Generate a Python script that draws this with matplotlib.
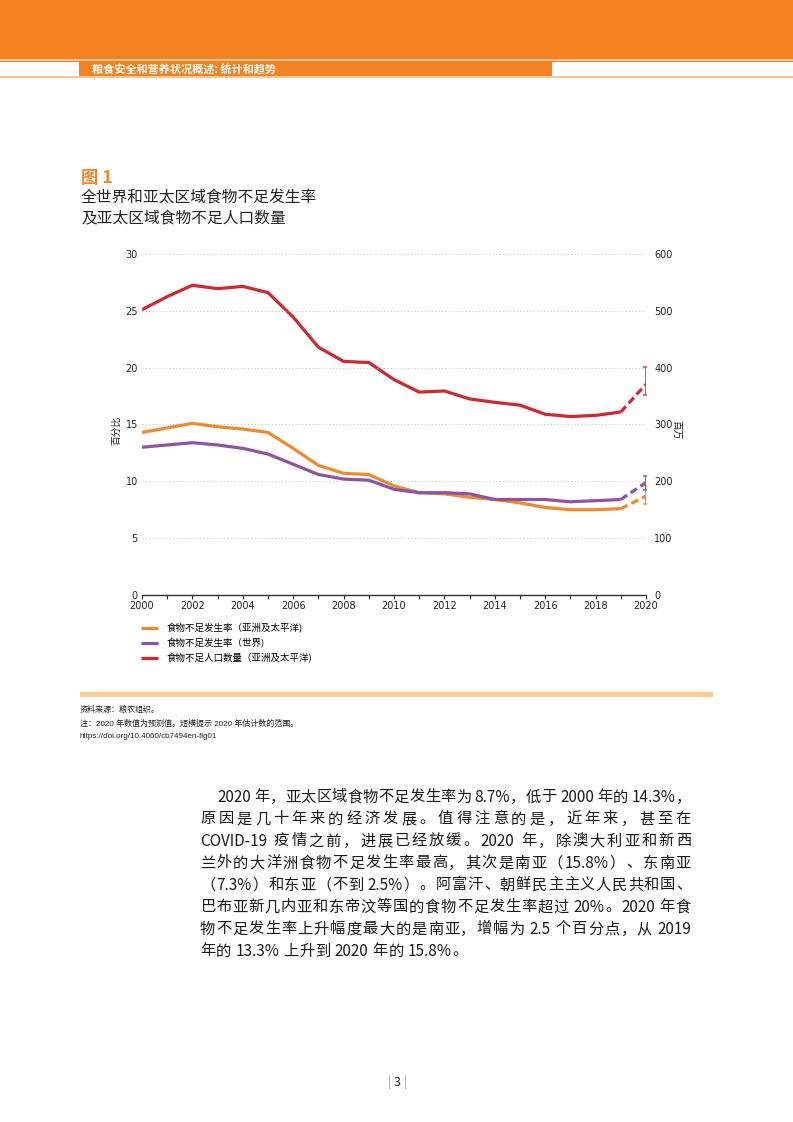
import re
import numpy as np
import matplotlib
matplotlib.use("Agg")
import matplotlib.pyplot as plt
from matplotlib.patches import Rectangle

CJK = ['Noto Sans CJK SC', 'DejaVu Sans']
plt.rcParams['font.family'] = CJK

# ---- data ----
years = list(range(2000, 2020))
apac_pou = [14.3, 14.7, 15.1, 14.8, 14.6, 14.3, 12.9, 11.4, 10.7, 10.6,
            9.6, 9.0, 8.9, 8.6, 8.4, 8.1, 7.7, 7.5, 7.5, 7.6]
world_pou = [13.0, 13.2, 13.4, 13.2, 12.9, 12.4, 11.5, 10.6, 10.2, 10.1,
             9.3, 9.0, 9.0, 8.9, 8.4, 8.4, 8.4, 8.2, 8.3, 8.4]
apac_nou = [502, 525, 545, 539, 543, 532, 489, 436, 411, 409,
            379, 357, 359, 345, 339, 334, 318, 314, 316, 322]

proj_year = 2020
apac_pou_2020, apac_pou_range = 8.7, (8.0, 9.6)
world_pou_2020, world_pou_range = 9.9, (9.2, 10.5)
apac_nou_2020, apac_nou_range = 371, (352, 401)

labels = ['食物不足发生率（亚洲及太平洋)', '食物不足发生率（世界)', '食物不足人口数量（亚洲及太平洋)']
left_ticks = [0, 5, 10, 15, 20, 25, 30]
right_ticks = [0, 100, 200, 300, 400, 500, 600]
x_ticks = list(range(2000, 2021, 2))

title_lines = ['全世界和亚太区域食物不足发生率', '及亚太区域食物不足人口数量']
source_lines = ['资料来源：粮农组织。',
                '注：2020 年数值为预测值。短横提示 2020 年估计数的范围。',
                'https://doi.org/10.4060/cb7494en-fig01']
para = ['2020 年，亚太区域食物不足发生率为 8.7%，低于 2000 年的 14.3%，',
        '原因是几十年来的经济发展。值得注意的是，近年来，甚至在',
        'COVID-19 疫情之前，进展已经放缓。2020 年，除澳大利亚和新西',
        '兰外的大洋洲食物不足发生率最高，其次是南亚（15.8%）、东南亚',
        '（7.3%）和东亚（不到 2.5%）。阿富汗、朝鲜民主主义人民共和国、',
        '巴布亚新几内亚和东帝汶等国的食物不足发生率超过 20%。2020 年食',
        '物不足发生率上升幅度最大的是南亚，增幅为 2.5 个百分点，从 2019',
        '年的 13.3% 上升到 2020 年的 15.8%。']

ORANGE = '#F0892E'
PURPLE = '#8E54A1'
RED = '#D22630'
HEAD = '#F58220'

W, H = 793, 1122
fig = plt.figure(figsize=(W / 100, H / 100), dpi=100)


def fx(x):
    return x / W


def fy(y):
    return 1 - y / H


def rect(x0, y0, x1, y1, color):
    fig.add_artist(Rectangle((fx(x0), fy(y1)), fx(x1) - fx(x0), fy(y0) - fy(y1),
                             transform=fig.transFigure, color=color, lw=0))


# header
rect(0, 0, W, 59.5, HEAD)
rect(0, 59.5, W, 61, '#FBC89A')
rect(0, 61, W, 76.5, HEAD)
rect(0, 62.5, 79, 75.5, 'white')
rect(552, 62.5, W, 75.5, 'white')
rect(0, 76.5, W, 77.5, '#FBC89A')
fig.text(fx(92), fy(69.5), '粮食安全和营养状况概述: 统计和趋势', color='white',
         fontsize=8, fontweight='bold', va='center', ha='left')

# title
fig.text(fx(81), fy(178), '图 1', color=ORANGE, fontsize=12.5, fontweight='bold',
         va='center', ha='left')
for i, t in enumerate(title_lines):
    fig.text(fx(81), fy(198 + i * 20), t, color='#222222', fontsize=11.3,
             va='center', ha='left')

# chart
ax = fig.add_axes([fx(142), fy(595), fx(646) - fx(142), fy(254) - fy(595)])
ax2 = ax.twinx()

lw = 2.3
dash = (2.4, 1.3)
l1, = ax.plot(years, apac_pou, color=ORANGE, lw=lw, solid_capstyle='butt', zorder=3)
l2, = ax.plot(years, world_pou, color=PURPLE, lw=lw, solid_capstyle='butt', zorder=4)
l3, = ax2.plot(years, apac_nou, color=RED, lw=lw, solid_capstyle='butt', zorder=3)

ax.plot([years[-1], proj_year], [apac_pou[-1], apac_pou_2020], color=ORANGE, lw=lw,
        dashes=dash, zorder=3)
ax.plot([years[-1], proj_year], [world_pou[-1], world_pou_2020], color=PURPLE, lw=lw,
        dashes=dash, zorder=4)
ax2.plot([years[-1], proj_year], [apac_nou[-1], apac_nou_2020], color=RED, lw=lw,
         dashes=dash, zorder=3)

for a, v, r, c in [(ax, apac_pou_2020, apac_pou_range, ORANGE),
                   (ax, world_pou_2020, world_pou_range, PURPLE),
                   (ax2, apac_nou_2020, apac_nou_range, '#D6454F')]:
    a.errorbar([proj_year], [v], yerr=[[v - r[0]], [r[1] - v]], fmt='none',
               ecolor=c, elinewidth=1.3, capsize=2.2, capthick=1.1, zorder=5)

ax.set_xlim(2000, 2020)
ax.set_ylim(0, 30)
ax2.set_ylim(0, 600)
ax.set_xticks(x_ticks)
ax.set_xticks(range(2000, 2021), minor=True)
ax.set_yticks(left_ticks)
ax2.set_yticks(right_ticks)

for a in (ax, ax2):
    for s in ('top', 'left', 'right'):
        a.spines[s].set_visible(False)
    a.patch.set_visible(False)
ax2.spines['bottom'].set_visible(False)
ax.spines['bottom'].set_color('#333333')
ax.spines['bottom'].set_linewidth(1.0)
ax.set_zorder(2)
ax2.set_zorder(1)

ax.grid(axis='y', color='#BDBDBD', lw=0.7, linestyle=(0, (1, 2.5)))
ax.set_axisbelow(True)
ax.tick_params(axis='x', which='both', direction='out', length=3, width=0.8,
               color='#333333', labelsize=7, pad=1.5)
ax.tick_params(axis='y', length=0, labelsize=7, pad=3)
ax2.tick_params(axis='y', length=0, labelsize=7, pad=6)
for t in ax.get_xticklabels() + ax.get_yticklabels() + ax2.get_yticklabels():
    t.set_family('DejaVu Sans')
    t.set_color('#222222')

fig.text(fx(116), fy(430), '百分比', rotation=90, fontsize=7, va='center', ha='center',
         color='#222222')
fig.text(fx(676), fy(430), '百万', rotation=270, fontsize=7, va='center', ha='center',
         color='#222222')

# legend
fig.legend([l1, l2, l3], labels, loc='upper left', bbox_to_anchor=(fx(141), fy(623)),
           frameon=False, fontsize=6.8, handlelength=1.8, handletextpad=0.9,
           labelspacing=0.5, borderpad=0, borderaxespad=0)

# source
rect(80, 692, 713, 697, '#FDCB99')
for i, t in enumerate(source_lines):
    fig.text(fx(80), fy(710 + i * 13.5), t, fontsize=5.8, color='#222222',
             family=['Liberation Sans', 'Noto Sans CJK SC'], va='center', ha='left')

# paragraph, justified
renderer = fig.canvas.get_renderer()


def para_line(s, x0, x1, y, justify=True):
    toks = re.findall(r'[0-9A-Za-z.%\-]+| |.', s)
    items = []
    for t in toks:
        if t == ' ':
            items.append((None, 3.0))
            continue
        tx = fig.text(0, fy(y), t, fontsize=11, color='#1a1a1a', va='center', ha='left')
        items.append((tx, tx.get_window_extent(renderer).width))
    total = sum(w for _, w in items)
    gap = (x1 - x0 - total) / (len(items) - 1) if justify else 0.6
    x = x0
    for tx, w in items:
        if tx is not None:
            tx.set_x(fx(x))
        x += w + gap


for i, line in enumerate(para):
    x0 = 217 if i == 0 else 200
    para_line(line, x0, 691, 797 + i * 22, justify=(i < len(para) - 1))

# page number
fig.text(fx(389), fy(1082), '|', color=ORANGE, fontsize=9, va='center', ha='center')
fig.text(fx(397), fy(1082), '3', color='#222222', fontsize=9, va='center', ha='center')
fig.text(fx(405), fy(1082), '|', color=ORANGE, fontsize=9, va='center', ha='center')

fig.savefig('out.png', dpi=100)
